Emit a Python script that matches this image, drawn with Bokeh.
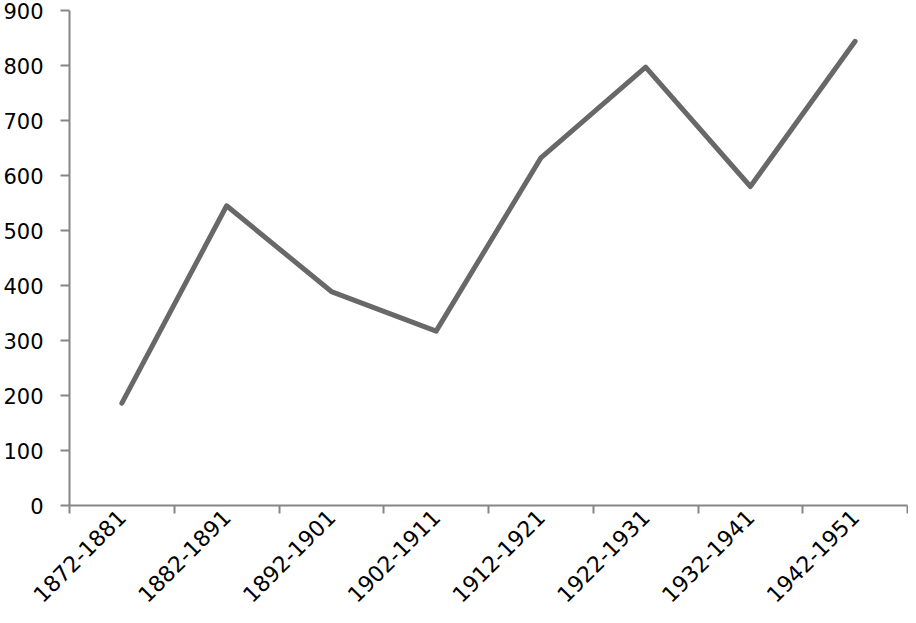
import math
from bokeh.plotting import figure
from bokeh.models import FixedTicker, Range1d
from bokeh.embed import file_html
from bokeh.resources import INLINE

categories = ["1872-1881", "1882-1891", "1892-1901", "1902-1911",
              "1912-1921", "1922-1931", "1932-1941", "1942-1951"]
values = [186, 545, 389, 317, 632, 797, 580, 844]
y_ticks = [0, 100, 200, 300, 400, 500, 600, 700, 800, 900]

xs = [i + 0.5 for i in range(len(categories))]

p = figure(width=908, height=615, output_backend="svg", toolbar_location=None,
           x_range=Range1d(0, len(categories)), y_range=Range1d(0, 900),
           min_border_left=69, min_border_right=1, min_border_top=10, min_border_bottom=110)
p.outline_line_color = None
p.grid.visible = False
p.background_fill_color = "white"
p.border_fill_color = "white"

p.line(xs, values, line_color="#686868", line_width=5, line_join="round", line_cap="round")

FONT = "DejaVu Sans"
# x axis
p.xaxis.ticker = FixedTicker(ticks=xs, minor_ticks=list(range(len(categories) + 1)))
p.xaxis.major_label_overrides = {x: c for x, c in zip(xs, categories)}
p.xaxis.major_label_orientation = math.pi / 4
p.xaxis.major_label_standoff = 0
p.xaxis.major_tick_out = 0
p.xaxis.major_tick_in = 0
p.xaxis.minor_tick_out = 8
p.xaxis.minor_tick_in = 0
p.xaxis.minor_tick_line_color = "#868686"
p.xaxis.minor_tick_line_width = 2
p.xaxis.major_label_text_font_size = "22px"

# y axis
p.yaxis.ticker = FixedTicker(ticks=y_ticks, minor_ticks=[])
p.yaxis.major_tick_out = 9
p.yaxis.major_tick_in = 0
p.yaxis.major_label_standoff = 17
p.yaxis.major_label_text_font_size = "21px"

for ax in (p.xaxis, p.yaxis):
    ax.axis_line_color = "#868686"
    ax.axis_line_width = 2
    ax.major_tick_line_color = "#868686"
    ax.major_tick_line_width = 2
    ax.major_label_text_font = FONT
    ax.major_label_text_color = "black"

open("out.html", "w").write(file_html(p, INLINE))
